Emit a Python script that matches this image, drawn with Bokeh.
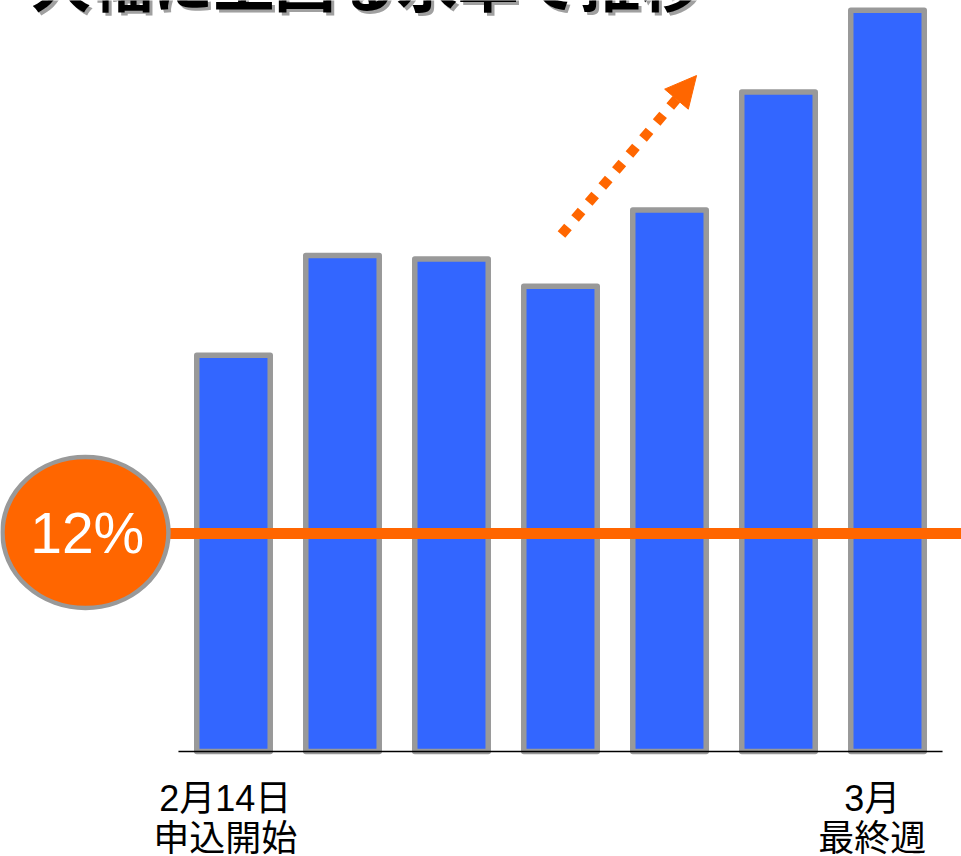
from bokeh.plotting import figure
from bokeh.models import Range1d, Arrow, NormalHead
from bokeh.core.properties import value
from bokeh.embed import file_html
from bokeh.resources import INLINE

# ---- data ----
weeks = [0, 1, 2, 3, 4, 5, 6]
rates = [21.8, 27.3, 27.1, 25.6, 29.8, 36.3, 40.8]
reference_rate = 12
reference_label = "12%"
tick_line1 = ["2月14日", "3月"]
tick_line2 = ["申込開始", "最終週"]
tick_index = [0, 6]
title_text = "大幅に上回る水準で推移"

BLUE = "#3366FF"
GREY = "#999999"
ORANGE = "#FF6600"

PX_Y = 18.17   # pixels per data unit (y)
PX_X = 109.0   # pixels per data unit (x)

p = figure(width=961, height=856, output_backend="svg", toolbar_location=None,
           x_axis_type=None, y_axis_type=None, min_border=0,
           x_range=Range1d(-2.1376, 6.6789), y_range=Range1d(-5.78, 41.33))
p.outline_line_color = None
p.grid.visible = False
p.background_fill_color = "white"
p.border_fill_color = "white"

# title (cut off at top, as in the original slide)
tx, ty = -1.862, 40.89 + 28 / PX_Y
p.text(x=[tx + 3 / PX_X], y=[ty - 3 / PX_Y], text=[title_text], text_color="#A0A0A0",
       text_font=value("Noto Sans CJK JP"), text_font_style="bold",
       text_font_size="61px", text_baseline="alphabetic", text_align="left")
p.text(x=[tx], y=[ty], text=[title_text], text_color="black",
       text_font=value("Noto Sans CJK JP"), text_font_style="bold",
       text_font_size="61px", text_baseline="alphabetic", text_align="left")

# bars
p.vbar(x=weeks, top=rates, bottom=0, width=0.674, fill_color=BLUE,
       line_color=GREY, line_width=5.5, line_join="round")

# baseline
p.line(x=[weeks[0] - 0.505, weeks[-1] + 0.505], y=[0, 0], line_color="black", line_width=1.5)

# reference line
p.line(x=[-1.36, 6.7], y=[reference_rate, reference_rate], line_color=ORANGE, line_width=11)

# ellipse label
p.ellipse(x=[-1.358], y=[reference_rate + 0.05], width=166, height=151,
          width_units="screen", height_units="screen",
          fill_color=ORANGE, line_color=GREY, line_width=4.5)
p.text(x=[-1.342], y=[reference_rate - 1.21 + 22 / PX_Y], text=[reference_label], text_color="white",
       text_font=value("Liberation Sans"), text_font_size="57px",
       text_align="center", text_baseline="alphabetic")

# dotted arrow
p.add_layout(Arrow(x_start=3.009, y_start=28.45, x_end=4.248, y_end=37.2,
                   line_color=ORANGE, line_width=10, line_dash="10 11",
                   end=NormalHead(size=31, fill_color=ORANGE, line_color=ORANGE, line_width=1)))

# tick labels
offsets = [-0.075, -0.14]
lx = [i + o for i, o in zip(tick_index, offsets)]
font = value("Liberation Sans, 'Noto Sans CJK JP'")
p.text(x=lx, y=[-3.247 + 12 / PX_Y] * len(lx), text=tick_line1, text_color="black",
       text_font=font, text_font_size="36px", text_align="center", text_baseline="alphabetic")
p.text(x=lx, y=[-5.476 + 12 / PX_Y] * len(lx), text=tick_line2, text_color="black",
       text_font=font, text_font_size="36px", text_align="center", text_baseline="alphabetic")

open("out.html", "w").write(file_html(p, INLINE))
